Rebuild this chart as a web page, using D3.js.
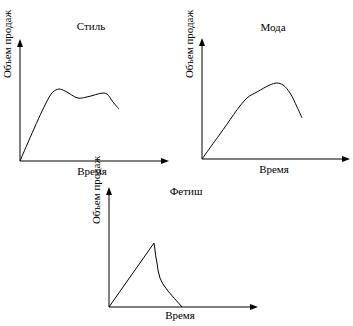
<!DOCTYPE html>
<html>
<head>
<meta charset="utf-8">
<script src="https://cdn.jsdelivr.net/npm/d3@7"></script>
<style>
  html, body { margin: 0; padding: 0; background: #fff; }
</style>
</head>
<body>
<svg id="chart" width="353" height="326"></svg>
<script>
// названия графиков и подписи осей
const titles = ['Стиль', 'Мода', 'Фетиш'];
const xLabel = 'Время';
const yLabel = 'Объем продаж';

// кривые жизненного цикла (время, объем), в долях от длины осей 0..100
const styleX = [0, 16.8, 22.1, 26.2, 30.2, 38.9, 45, 55.7, 58.4, 62.4, 66.4];
const styleY = [0, 45.9, 56.6, 59, 57.4, 51.6, 52.5, 55.7, 54.9, 48.4, 42.6];
const fashionX = [0, 12.2, 30.4, 37.2, 45.9, 50.7, 54.7, 59.5, 64.2, 67.6];
const fashionY = [0, 20.7, 50.4, 55.4, 61.2, 62.8, 61.2, 54.5, 43, 33.9];
const fadX = [0, 30.2, 30.6, 31.3, 32.2, 33, 34.2, 36, 39.6, 44, 49];
const fadY = [0, 53.3, 50, 43, 36.7, 30, 24.2, 19.5, 13.3, 7, 0];

const svg = d3.select('#chart')
  .style('font-family', "'Times New Roman', Times, 'Liberation Serif', 'DejaVu Serif'")
  .style('font-size', '11px');

// расположение трех панелей
const panels = [
  { x0: 20, x1: 169, y0: 161, y1: 39, xs: styleX, ys: styleY, curve: d3.curveCatmullRom,
    title: [91, 30], xlab: [92, 175], ylab: [11, 44] },
  { x0: 202, x1: 350, y0: 159, y1: 38, xs: fashionX, ys: fashionY, curve: d3.curveCatmullRom,
    title: [273, 31], xlab: [274, 173], ylab: [193, 44] },
  { x0: 109, x1: 258, y0: 307, y1: 187, xs: fadX, ys: fadY, curve: d3.curveLinear,
    title: [186, 195], xlab: [180, 319], ylab: [100, 190] }
];

panels.forEach((p, i) => {
  const x = d3.scaleLinear().domain([0, 100]).range([p.x0, p.x1]);
  const y = d3.scaleLinear().domain([0, 100]).range([p.y0, p.y1]);
  const g = svg.append('g');

  // оси
  g.append('line')
   .attr('x1', x(0)).attr('x2', x(100) - 4)
   .attr('y1', y(0)).attr('y2', y(0))
   .attr('stroke', '#000').attr('stroke-width', 1);
  g.append('line')
   .attr('x1', x(0)).attr('x2', x(0))
   .attr('y1', y(0)).attr('y2', y(100) + 4)
   .attr('stroke', '#000').attr('stroke-width', 1);

  // стрелки
  g.append('path')
   .attr('d', `M${x(100)},${y(0)} L${x(100) - 8},${y(0) - 3} L${x(100) - 8},${y(0) + 3} Z`)
   .attr('fill', '#000');
  g.append('path')
   .attr('d', `M${x(0)},${y(100)} L${x(0) - 3},${y(100) + 8} L${x(0) + 3},${y(100) + 8} Z`)
   .attr('fill', '#000');

  // кривая
  const pts = p.xs.map((v, k) => [v, p.ys[k]]);
  g.append('path')
   .datum(pts)
   .attr('fill', 'none')
   .attr('stroke', '#000')
   .attr('stroke-width', 1)
   .attr('d', d3.line().x(d => x(d[0])).y(d => y(d[1])).curve(p.curve));

  // подписи
  g.append('text')
   .attr('x', p.title[0]).attr('y', p.title[1])
   .attr('text-anchor', 'middle')
   .text(titles[i]);
  g.append('text')
   .attr('x', p.xlab[0]).attr('y', p.xlab[1])
   .attr('text-anchor', 'middle')
   .text(xLabel);
  g.append('text')
   .attr('transform', `translate(${p.ylab[0]},${p.ylab[1]}) rotate(-90)`)
   .attr('text-anchor', 'middle')
   .text(yLabel);
});
</script>
</body>
</html>
